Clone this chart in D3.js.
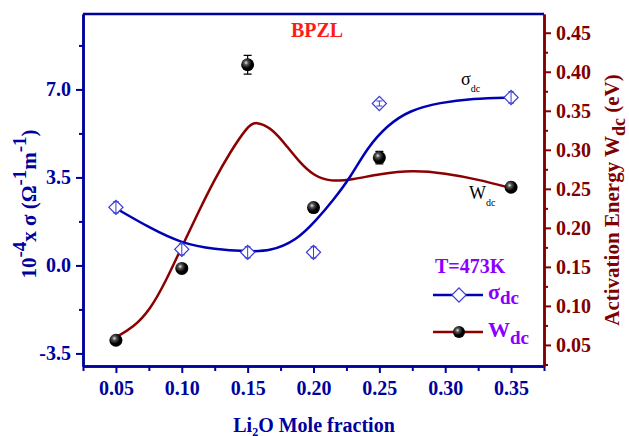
<!DOCTYPE html>
<html>
<head>
<meta charset="utf-8">
<script src="https://cdn.jsdelivr.net/npm/d3@7"></script>
<style>
  body { margin: 0; background: #fff; }
  svg { display: block; font-family: "Liberation Serif", "Times New Roman", serif; }
</style>
</head>
<body>
<svg width="629" height="436"></svg>
<script>
// measured points
const fraction = [0.05, 0.10, 0.15, 0.20, 0.25, 0.35];
const sigma = [2.31, 0.64, 0.52, 0.52, 6.44, 6.68];
const sigmaErr = [0.22, 0.22, 0.22, 0.22, 0.1, 0.22];
const wdc = [0.056, 0.148, 0.409, 0.226, 0.290, 0.252];
const wdcErr = [0.004, 0.003, 0.012, 0.003, 0.008, 0.003];

// fitted curves
const sigmaFitX = [0.05, 0.075, 0.10, 0.125, 0.15, 0.167, 0.187, 0.202, 0.215, 0.228, 0.241, 0.256, 0.273, 0.296, 0.321, 0.35];
const sigmaFitY = [2.27, 1.51, 0.87, 0.64, 0.56, 0.56, 0.99, 1.79, 2.6, 3.5, 4.69, 5.57, 6.17, 6.48, 6.64, 6.68];
const wdcFitX = [0.05, 0.063, 0.076, 0.088, 0.099, 0.114, 0.124, 0.137, 0.15, 0.156, 0.169, 0.18, 0.19, 0.20, 0.213, 0.23, 0.25, 0.275, 0.30, 0.325, 0.35];
const wdcFitY = [0.060, 0.072, 0.095, 0.132, 0.172, 0.225, 0.259, 0.298, 0.330, 0.337, 0.327, 0.304, 0.283, 0.267, 0.259, 0.262, 0.269, 0.274, 0.270, 0.262, 0.251];

const xMajor = [0.05, 0.10, 0.15, 0.20, 0.25, 0.30, 0.35];
const xMinor = [0.025, 0.075, 0.125, 0.175, 0.225, 0.275, 0.325, 0.375];
const leftMajor = [-3.5, 0, 3.5, 7.0];
const leftMinor = [-1.75, 1.75, 5.25, 8.75];
const rightMajor = [0.05, 0.10, 0.15, 0.20, 0.25, 0.30, 0.35, 0.40, 0.45];
const rightMinor = [0.025, 0.075, 0.125, 0.175, 0.225, 0.275, 0.325, 0.375, 0.425];

const blue = "#00009c", red = "#800000", violet = "#8a00ff";

var svg = d3.select("svg");
var pL = 83, pR = 544, pT = 14, pB = 366;

var x = d3.scaleLinear().domain([0.025, 0.375]).range([pL, pR]);
var yL = d3.scaleLinear().domain([-4, 10]).range([pB, pT]);
var yR = d3.scaleLinear().domain([0.023, 0.474]).range([pB, pT]);

var defs = svg.append("defs");
var grad = defs.append("radialGradient").attr("id", "ball")
  .attr("cx", "38%").attr("cy", "35%").attr("r", "65%");
grad.append("stop").attr("offset", "0%").attr("stop-color", "#e8e8e8");
grad.append("stop").attr("offset", "25%").attr("stop-color", "#555");
grad.append("stop").attr("offset", "65%").attr("stop-color", "#000");

function styleAxis(g, col) {
  g.select(".domain").attr("stroke", col).attr("stroke-width", 2.5);
  g.selectAll(".tick line").attr("stroke", col).attr("stroke-width", 2);
  g.selectAll(".tick text").attr("fill", col)
    .style("font-size", "20px").style("font-weight", "bold")
    .style("font-family", "'Liberation Serif', serif");
}

// top frame line
svg.append("line").attr("x1", pL).attr("x2", pR).attr("y1", pT).attr("y2", pT)
  .attr("stroke", blue).attr("stroke-width", 2.5);

// bottom axis
svg.append("g").attr("transform", `translate(0,${pB})`)
  .call(d3.axisBottom(x).tickValues(xMinor).tickSize(5).tickFormat("").tickSizeOuter(0))
  .call(g => styleAxis(g, blue));
svg.append("g").attr("transform", `translate(0,${pB})`)
  .call(d3.axisBottom(x).tickValues(xMajor).tickSize(7).tickPadding(8).tickFormat(d => d.toFixed(2)).tickSizeOuter(0))
  .call(g => styleAxis(g, blue));

// left axis
svg.append("g").attr("transform", `translate(${pL},0)`)
  .call(d3.axisLeft(yL).tickValues(leftMinor).tickSize(4).tickFormat("").tickSizeOuter(0))
  .call(g => styleAxis(g, blue));
svg.append("g").attr("transform", `translate(${pL},0)`)
  .call(d3.axisLeft(yL).tickValues(leftMajor).tickSize(7).tickPadding(5).tickFormat(d => d.toFixed(1)).tickSizeOuter(0))
  .call(g => styleAxis(g, blue));

// right axis
svg.append("g").attr("transform", `translate(${pR},0)`)
  .call(d3.axisRight(yR).tickValues(rightMinor).tickSize(4).tickFormat("").tickSizeOuter(0))
  .call(g => styleAxis(g, red));
svg.append("g").attr("transform", `translate(${pR},0)`)
  .call(d3.axisRight(yR).tickValues(rightMajor).tickSize(7).tickPadding(5).tickFormat(d => d.toFixed(2)).tickSizeOuter(0))
  .call(g => styleAxis(g, red));

// fitted curves
var sigmaLine = d3.line().x(d => x(d[0])).y(d => yL(d[1])).curve(d3.curveBasis);
var wdcLine = d3.line().x(d => x(d[0])).y(d => yR(d[1])).curve(d3.curveBasis);

svg.append("path").datum(d3.zip(wdcFitX, wdcFitY))
  .attr("d", wdcLine).attr("fill", "none").attr("stroke", "#8b0000").attr("stroke-width", 2.5);
svg.append("path").datum(d3.zip(sigmaFitX, sigmaFitY))
  .attr("d", sigmaLine).attr("fill", "none").attr("stroke", "#0000b4").attr("stroke-width", 2.5);

// sigma points
var diamond = d3.symbol().type(d3.symbolSquare).size(100);
var sp = svg.append("g").selectAll("g").data(fraction).enter().append("g");
sp.append("path")
  .attr("d", diamond)
  .attr("transform", (d, i) => `translate(${x(d)},${yL(sigma[i])}) rotate(45)`)
  .attr("fill", "#fff").attr("stroke", "#3a3ad8").attr("stroke-width", 1.2);
sp.append("path")
  .attr("d", (d, i) => {
    var cx = x(d), y1 = yL(sigma[i] + sigmaErr[i]), y2 = yL(sigma[i] - sigmaErr[i]);
    return `M${cx},${y1}V${y2}M${cx - 3},${y1}H${cx + 3}M${cx - 3},${y2}H${cx + 3}`;
  })
  .attr("fill", "none").attr("stroke", "#3a3ad8").attr("stroke-width", 1);

// wdc points
var wp = svg.append("g").selectAll("g").data(fraction).enter().append("g");
wp.append("path")
  .attr("d", (d, i) => {
    var cx = x(d), y1 = yR(wdc[i] + wdcErr[i]), y2 = yR(wdc[i] - wdcErr[i]);
    return `M${cx},${y1}V${y2}M${cx - 4},${y1}H${cx + 4}M${cx - 4},${y2}H${cx + 4}`;
  })
  .attr("fill", "none").attr("stroke", "#000").attr("stroke-width", 1.2);
wp.append("circle")
  .attr("cx", d => x(d)).attr("cy", (d, i) => yR(wdc[i])).attr("r", 6.5)
  .attr("fill", "url(#ball)");

// axis titles
var lt = svg.append("text").attr("transform", "translate(36,204) rotate(-90)")
  .attr("text-anchor", "middle").attr("fill", blue)
  .style("font-size", "21px").style("font-weight", "bold");
lt.append("tspan").text("10");
lt.append("tspan").attr("dy", -10).style("font-size", "19px").text("-4");
lt.append("tspan").attr("dy", 10).text("x \u03c3 (\u03a9");
lt.append("tspan").attr("dy", -10).style("font-size", "19px").text("-1");
lt.append("tspan").attr("dy", 10).text("m");
lt.append("tspan").attr("dy", -10).style("font-size", "19px").text("-1");
lt.append("tspan").attr("dy", 10).text(")");

var rt = svg.append("text").attr("transform", "translate(619,200) rotate(-90)")
  .attr("text-anchor", "middle").attr("fill", red)
  .style("font-size", "21px").style("font-weight", "bold");
rt.append("tspan").text("Activation Energy W");
rt.append("tspan").attr("dy", 6).style("font-size", "18px").text("dc");
rt.append("tspan").attr("dy", -6).text(" (eV)");

var bt = svg.append("text").attr("x", 314).attr("y", 432)
  .attr("text-anchor", "middle").attr("fill", blue)
  .style("font-size", "20px").style("font-weight", "bold");
bt.append("tspan").text("Li");
bt.append("tspan").attr("dy", 4).style("font-size", "12px").text("2");
bt.append("tspan").attr("dy", -4).text("O Mole fraction");

// title and temperature
svg.append("text").attr("x", 317).attr("y", 37).attr("text-anchor", "middle")
  .attr("fill", "#ff1a1a").style("font-size", "20px").style("font-weight", "bold").text("BPZL");
svg.append("text").attr("x", 435).attr("y", 273)
  .attr("fill", violet).style("font-size", "20px").style("font-weight", "bold").text("T=473K");

// curve annotations
var a1 = svg.append("text").attr("x", 461).attr("y", 85).attr("fill", "#000").style("font-size", "18px");
a1.append("tspan").text("\u03c3");
a1.append("tspan").attr("dy", 7).style("font-size", "10px").text("dc");
var a2 = svg.append("text").attr("x", 469).attr("y", 199).attr("fill", "#000").style("font-size", "18px");
a2.append("tspan").text("W");
a2.append("tspan").attr("dy", 7).style("font-size", "10px").text("dc");

// legend
var lg = svg.append("g");
lg.append("line").attr("x1", 433).attr("x2", 483).attr("y1", 295).attr("y2", 295)
  .attr("stroke", "#0000b4").attr("stroke-width", 2.5);
lg.append("path").attr("d", diamond).attr("transform", "translate(459,295) rotate(45)")
  .attr("fill", "#fff").attr("stroke", "#3a3ad8").attr("stroke-width", 1.2);
lg.append("line").attr("x1", 433).attr("x2", 483).attr("y1", 332).attr("y2", 332)
  .attr("stroke", "#8b0000").attr("stroke-width", 2.5);
lg.append("circle").attr("cx", 459).attr("cy", 332).attr("r", 6).attr("fill", "url(#ball)");

var l1 = lg.append("text").attr("x", 488).attr("y", 299).attr("fill", violet)
  .style("font-size", "22px").style("font-weight", "bold");
l1.append("tspan").text("\u03c3");
l1.append("tspan").attr("dy", 5).style("font-size", "19px").text("dc");
var l2 = lg.append("text").attr("x", 488).attr("y", 337).attr("fill", violet)
  .style("font-size", "22px").style("font-weight", "bold");
l2.append("tspan").text("W");
l2.append("tspan").attr("dy", 7).style("font-size", "19px").text("dc");
</script>
</body>
</html>
